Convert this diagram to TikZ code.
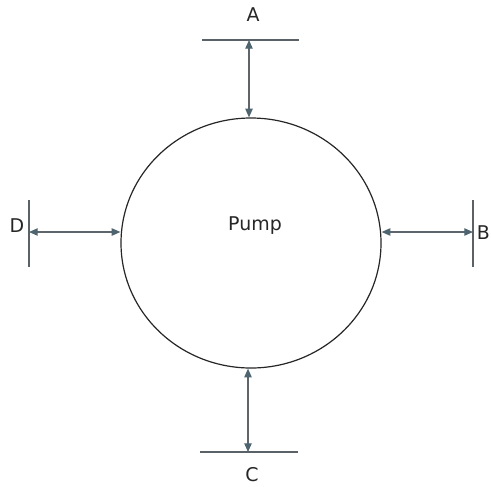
\documentclass[tikz,border=0pt]{standalone}
\usepackage{fontspec}
\setmainfont{DejaVu Sans}
\usetikzlibrary{arrows.meta,shapes.geometric}
\definecolor{arrowcol}{HTML}{4E6570}
\definecolor{linecol}{HTML}{5E666C}
\definecolor{barcol}{HTML}{5A6268}
\begin{document}
\begin{tikzpicture}[x=0.75pt,y=-0.75pt,
  bar/.style={draw=barcol, line width=1pt},
  flow/.style={draw=linecol, line width=0.9pt,
    {Triangle[length=6.5pt,width=5.5pt,color=arrowcol]}-{Triangle[length=6.5pt,width=5.5pt,color=arrowcol]}},
  lbl/.style={font=\fontsize{14.2}{16}\selectfont, text=black!85, inner sep=0pt}]
\useasboundingbox (0,0) rectangle (491,486);
% pump body
\node[ellipse, draw=black!85, line width=0.9pt, inner sep=0pt,
      minimum width=195pt, minimum height=187.5pt] (pump) at (251,243) {};
\node[lbl] (pumplbl) at (255,226) {Pump};
% ports
\coordinate (a) at (249,40);
\coordinate (c) at (248,452);
\coordinate (d) at (29,232);
\coordinate (b) at (473,232);
% bars
\draw[bar] (202,40) -- (299,40);
\draw[bar] (200,452) -- (298,452);
\draw[bar] (29,200) -- (29,267);
\draw[bar] (473,200) -- (473,267);
% connectors
\draw[flow] (a) -- (a |- pump.north);
\draw[flow] (c |- pump.south) -- (c);
\draw[flow] (d) -- (d -| pump.west);
\draw[flow] (b -| pump.east) -- (b);
% labels
\node[lbl] (la) at (253,15) {A};
\node[lbl] (lc) at (252,475) {C};
\node[lbl] (ld) at (17,226) {D};
\node[lbl, anchor=west] (lb) at (476.5,233) {B};
\end{tikzpicture}
\end{document}
